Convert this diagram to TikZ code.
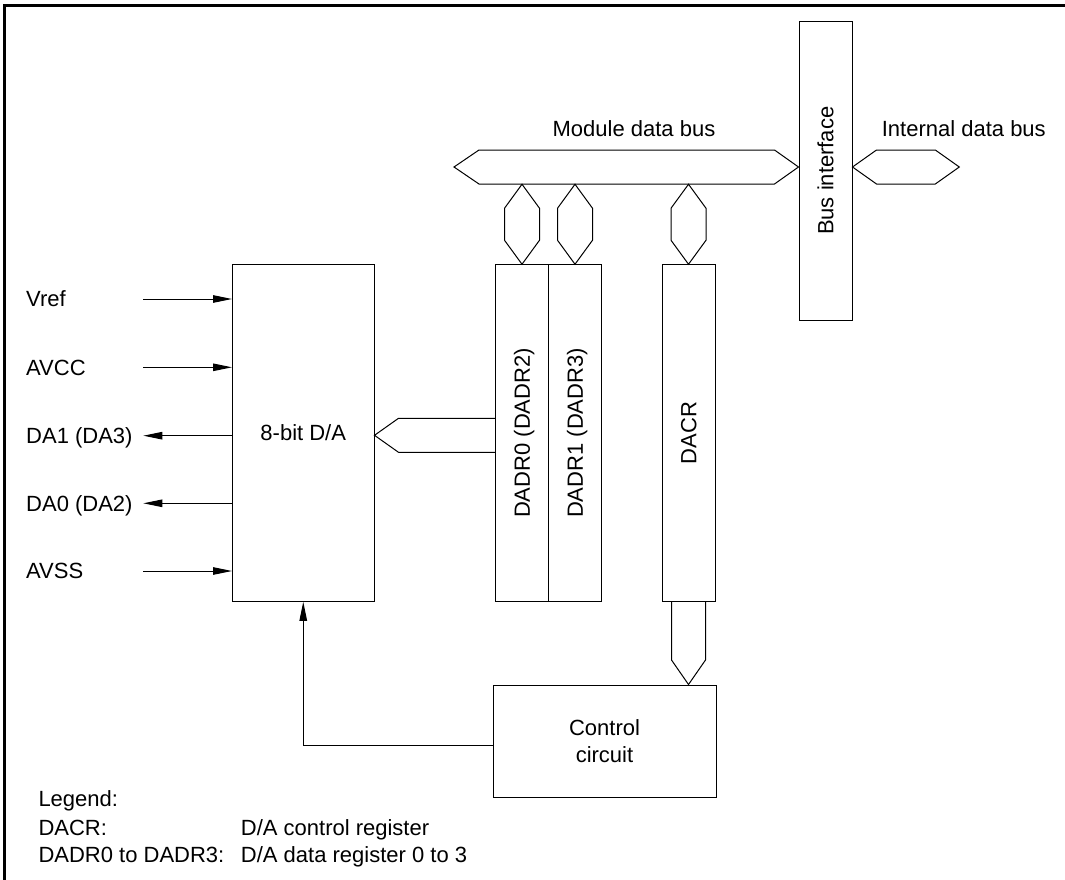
\documentclass[tikz,border=0pt]{standalone}
\usepackage{fontspec}
\setmainfont{Liberation Sans}
\usetikzlibrary{arrows.meta,calc}
\newcommand\labfont{\fontsize{22}{27.5}\selectfont}
\begin{document}
\begin{tikzpicture}[x=1pt,y=-1pt,
  blk/.style={draw, line width=1pt, inner sep=0pt, font=\labfont, align=center},
  lbl/.style={inner sep=0pt, font=\labfont, text height=15.75pt, text depth=0pt},
  txt/.style={inner sep=0pt, font=\labfont},
  arr/.style={line width=1pt, -{Triangle[length=19pt,width=7.5pt]}},
  bus/.style={line width=1pt, line join=miter},
  frame/.style={line width=2.7pt}]
\useasboundingbox (0,0) rectangle (1065,880);
% frame
\coordinate (f1) at (4.3,880);
\coordinate (f2) at (4.3,5.3);
\coordinate (f3) at (1065,5.3);
\draw[frame] (f1) -- (f2) -- (f3);

% blocks
\node[blk, minimum width=141.5pt, minimum height=336.5pt] (da) at (303.25,433) {8-bit D/A};
\node[blk, minimum width=53pt, minimum height=336.5pt] (r0) at (522,433) {};
\node[blk, minimum width=53pt, minimum height=336.5pt] (r1) at (575,433) {};
\node[blk, minimum width=53pt, minimum height=336.5pt] (dacr) at (688.5,433) {};
\node[blk, minimum width=53pt, minimum height=298.5pt] (bi) at (825.5,170.75) {};
\node[blk, minimum width=223pt, minimum height=112pt] (ctrl) at (604.5,741) {Control\\circuit};

\node[lbl, rotate=90] at (r0.center) {DADR0 (DADR2)};
\node[lbl, rotate=90] at (r1.center) {DADR1 (DADR3)};
\node[lbl, rotate=90] at (dacr.center) {DACR};
\node[lbl, rotate=90] at (bi.center) {Bus interface};

% bus labels
\node[lbl] (mdb) at (634,128.5) {Module data bus};
\node[lbl] (idb) at (963.8,128.5) {Internal data bus};

% module data bus
\coordinate (mbl) at (454,167);
\coordinate (mbr) at (bi.west |- mbl);
\draw[bus] (mbl) -- ++(25,-17) -- ($(mbr)+(-24,-17)$) -- (mbr) -- ($(mbr)+(-24,17)$) -- ($(mbl)+(25,17)$) -- cycle;

% internal data bus
\coordinate (ibl) at (bi.east |- mbl);
\coordinate (ibr) at (959.3,167);
\draw[bus] (ibl) -- ++(24,-17) -- ($(ibr)+(-24,-17)$) -- (ibr) -- ($(ibr)+(-24,17)$) -- ($(ibl)+(24,17)$) -- cycle;

% vertical bus stubs from module data bus
\foreach \r in {r0,r1,dacr}{
  \draw[bus] (\r.north) -- ++(-17.5,-24) -- ++(0,-32) -- ++(17.5,-24) -- ++(17.5,24) -- ++(0,32) -- cycle;
}

% bus from DADR0 to D/A
\coordinate (dby) at (0,435.3);
\coordinate (dbl) at (da.east |- dby);
\coordinate (dbr) at (r0.west |- dby);
\draw[bus] ($(dbr)+(0,-17)$) -- ($(dbl)+(24,-17)$) -- (dbl) -- ($(dbl)+(24,17)$) -- ($(dbr)+(0,17)$);

% bus from DACR to control circuit
\coordinate (ctip) at (dacr.south |- ctrl.north);
\draw[bus] ($(dacr.south)+(-17,0)$) -- ($(ctip)+(-17,-24.5)$) -- (ctip) -- ($(ctip)+(17,-24.5)$) -- ($(dacr.south)+(17,0)$);

% control to D/A
\coordinate (fbs) at (ctrl.west |- 0,745.7);
\draw[arr] (fbs) -| (da.south);

% pins
\coordinate (p1) at (143.3,299);
\coordinate (p2) at (143.3,367.3);
\coordinate (p3) at (143.3,435.7);
\coordinate (p4) at (143.3,503.3);
\coordinate (p5) at (143.3,571);
\draw[arr] (p1) -- (p1 -| da.west);
\draw[arr] (p2) -- (p2 -| da.west);
\draw[arr] (p3 -| da.west) -- (p3);
\draw[arr] (p4 -| da.west) -- (p4);
\draw[arr] (p5) -- (p5 -| da.west);

\node[txt, anchor=base west] (l1) at (26,306.7) {Vref};
\node[txt, anchor=base west] (l2) at (26,375) {AVCC};
\node[txt, anchor=base west] (l3) at (26,443.4) {DA1 (DA3)};
\node[txt, anchor=base west] (l4) at (26,511) {DA0 (DA2)};
\node[txt, anchor=base west] (l5) at (26,578.5) {AVSS};

% legend
\node[txt, anchor=base west] (lg0) at (38.3,806.7) {Legend:};
\node[txt, anchor=base west] (lg1) at (38.3,835) {DACR:};
\node[txt, anchor=base west] (lg2) at (240.7,835) {D/A control register};
\node[txt, anchor=base west] (lg3) at (38.3,862.7) {DADR0 to DADR3:};
\node[txt, anchor=base west] (lg4) at (240.7,862.7) {D/A data register 0 to 3};
\end{tikzpicture}
\end{document}
